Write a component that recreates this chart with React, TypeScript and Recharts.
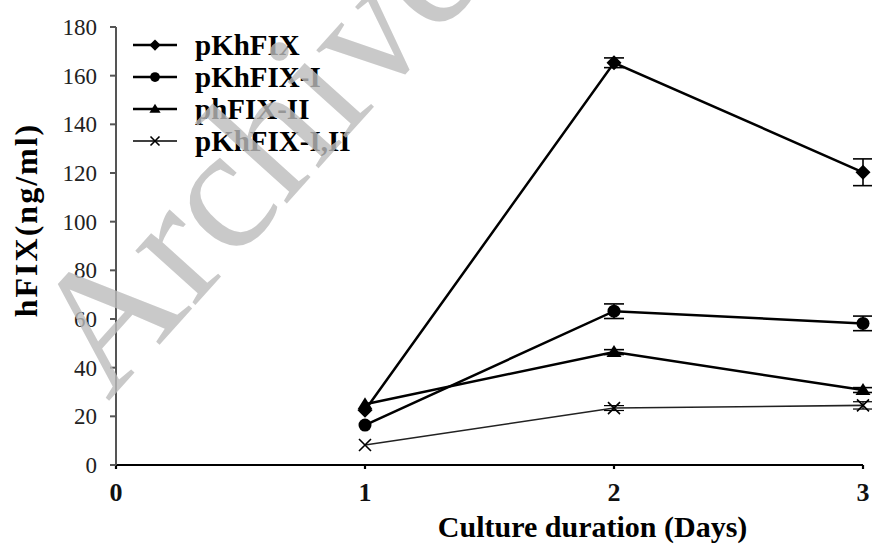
import React from 'react';
import { LineChart, Line, XAxis, YAxis, ErrorBar, Legend } from 'recharts';

const days = [1, 2, 3];
const seriesNames = ['pKhFIX', 'pKhFIX-I', 'phFIX-II', 'pKhFIX-I,II'];
const pKhFIX = [22.5, 165.3, 120.3];
const pKhFIXErr = [null, 2, 5.5];
const pKhFIXI = [16.4, 63.2, 58.2];
const pKhFIXIErr = [null, 3, 3];
const phFIXII = [25, 46.4, 30.8];
const phFIXIIErr = [null, 1, 1];
const pKhFIXIII = [8.2, 23.4, 24.5];
const pKhFIXIIIErr = [null, 1, 1.5];
const xTicks = [0, 1, 2, 3];
const yTicks = [0, 20, 40, 60, 80, 100, 120, 140, 160, 180];

const data = days.map((d, i) => ({
  day: d,
  a: pKhFIX[i], aErr: pKhFIXErr[i],
  b: pKhFIXI[i], bErr: pKhFIXIErr[i],
  c: phFIXII[i], cErr: phFIXIIErr[i],
  e: pKhFIXIII[i], eErr: pKhFIXIIIErr[i],
}));

const FONT = "'Liberation Serif', Tinos, 'Times New Roman', 'DejaVu Serif', serif";

type Shape = 'diamond' | 'circle' | 'triangle' | 'cross';

const Marker = ({ shape, cx, cy, s = 1 }: { shape: Shape; cx: number; cy: number; s?: number }) => {
  if (shape === 'diamond') {
    const r = 7.5 * s;
    return <path d={`M${cx},${cy - r}L${cx + r},${cy}L${cx},${cy + r}L${cx - r},${cy}Z`} fill="#000" />;
  }
  if (shape === 'circle') return <circle cx={cx} cy={cy} r={6.5 * s} fill="#000" />;
  if (shape === 'triangle') {
    const w = 7.5 * s;
    return <path d={`M${cx},${cy - 7 * s}L${cx + w},${cy + 5 * s}L${cx - w},${cy + 5 * s}Z`} fill="#000" />;
  }
  const r = 6 * s;
  return (
    <path d={`M${cx - r},${cy - r}L${cx + r},${cy + r}M${cx - r},${cy + r}L${cx + r},${cy - r}`} stroke="#000" strokeWidth={1.6} fill="none" />
  );
};

const makeDot = (shape: Shape) => (props: any) => {
  const { cx, cy, index } = props;
  if (cx == null || cy == null) return <g key={`n-${shape}-${index}`} />;
  return (
    <g key={`d-${shape}-${index}`}>
      <Marker shape={shape} cx={cx} cy={cy} />
    </g>
  );
};

const shapes: Shape[] = ['diamond', 'circle', 'triangle', 'cross'];

const renderLegend = () => (
  <div style={{ fontFamily: FONT, fontWeight: 'bold', fontSize: 29, color: '#000' }}>
    {seriesNames.map((n, i) => (
      <div key={n} style={{ display: 'flex', alignItems: 'center', height: 32 }}>
        <svg width={64} height={32}>
          <line x1={4} y1={16} x2={48} y2={16} stroke="#000" strokeWidth={i === 3 ? 1.6 : 2.5} />
          <Marker shape={shapes[i]} cx={26} cy={16} s={0.75} />
        </svg>
        <span style={{ marginLeft: 2, lineHeight: '32px' }}>{n}</span>
      </div>
    ))}
  </div>
);

export default function App() {
  return (
    <div style={{ position: 'absolute', left: 0, top: 0, width: 872, height: 545, background: '#fff' }}>
      <LineChart width={872} height={545} data={data} margin={{ top: 27, right: 9, bottom: 0, left: 0 }}>
        <XAxis
          dataKey="day"
          type="number"
          domain={[0, 3]}
          ticks={xTicks}
          height={80}
          stroke="#000"
          strokeWidth={2.2}
          tickSize={4}
          tickMargin={14}
          tick={{ fill: '#111', fontFamily: FONT, fontWeight: 'bold', fontSize: 26 }}
          label={{
            content: (p: any) => {
              const vb = p.viewBox;
              return (
                <text x={vb.x + vb.width * 0.638} y={vb.y + 72} textAnchor="middle" fontFamily={FONT} fontWeight="bold" fontSize={30} fill="#000">
                  Culture duration (Days)
                </text>
              );
            },
          }}
        />
        <YAxis
          type="number"
          domain={[0, 180]}
          ticks={yTicks}
          width={116}
          stroke="#555"
          strokeWidth={2}
          tickSize={6}
          tickMargin={13}
          tick={{ fill: '#222', fontFamily: FONT, fontSize: 23 }}
          label={{
            content: () => (
              <text x={0} y={0} transform="translate(37,220) rotate(-90)" textAnchor="middle" fontFamily={FONT} fontWeight="bold" fontSize={32} letterSpacing={2} fill="#000">
                hFIX(ng/ml)
              </text>
            ),
          }}
        />
        <Legend
          layout="vertical"
          align="center"
          verticalAlign="middle"
          content={renderLegend}
          wrapperStyle={{ position: 'absolute', left: 129, top: 29, width: 260, height: 140 }}
        />
        <Line dataKey="a" stroke="#000" strokeWidth={2.5} dot={makeDot('diamond')} isAnimationActive={false}>
          <ErrorBar dataKey="aErr" width={10} stroke="#000" strokeWidth={1.6} direction="y" />
        </Line>
        <Line dataKey="b" stroke="#000" strokeWidth={2.5} dot={makeDot('circle')} isAnimationActive={false}>
          <ErrorBar dataKey="bErr" width={10} stroke="#000" strokeWidth={1.6} direction="y" />
        </Line>
        <Line dataKey="c" stroke="#000" strokeWidth={2.5} dot={makeDot('triangle')} isAnimationActive={false}>
          <ErrorBar dataKey="cErr" width={10} stroke="#000" strokeWidth={1.6} direction="y" />
        </Line>
        <Line dataKey="e" stroke="#222" strokeWidth={1.6} dot={makeDot('cross')} isAnimationActive={false}>
          <ErrorBar dataKey="eErr" width={10} stroke="#000" strokeWidth={1.2} direction="y" />
        </Line>
      </LineChart>
      <svg width={872} height={545} style={{ position: 'absolute', left: 0, top: 0, pointerEvents: 'none' }}>
        <text
          x={0}
          y={0}
          transform="translate(108,402) rotate(-48)"
          fontFamily={FONT}
          fontSize={176}
          fill="#bcbcbc"
          fillOpacity={0.8}
        >
          Archive
        </text>
      </svg>
    </div>
  );
}
